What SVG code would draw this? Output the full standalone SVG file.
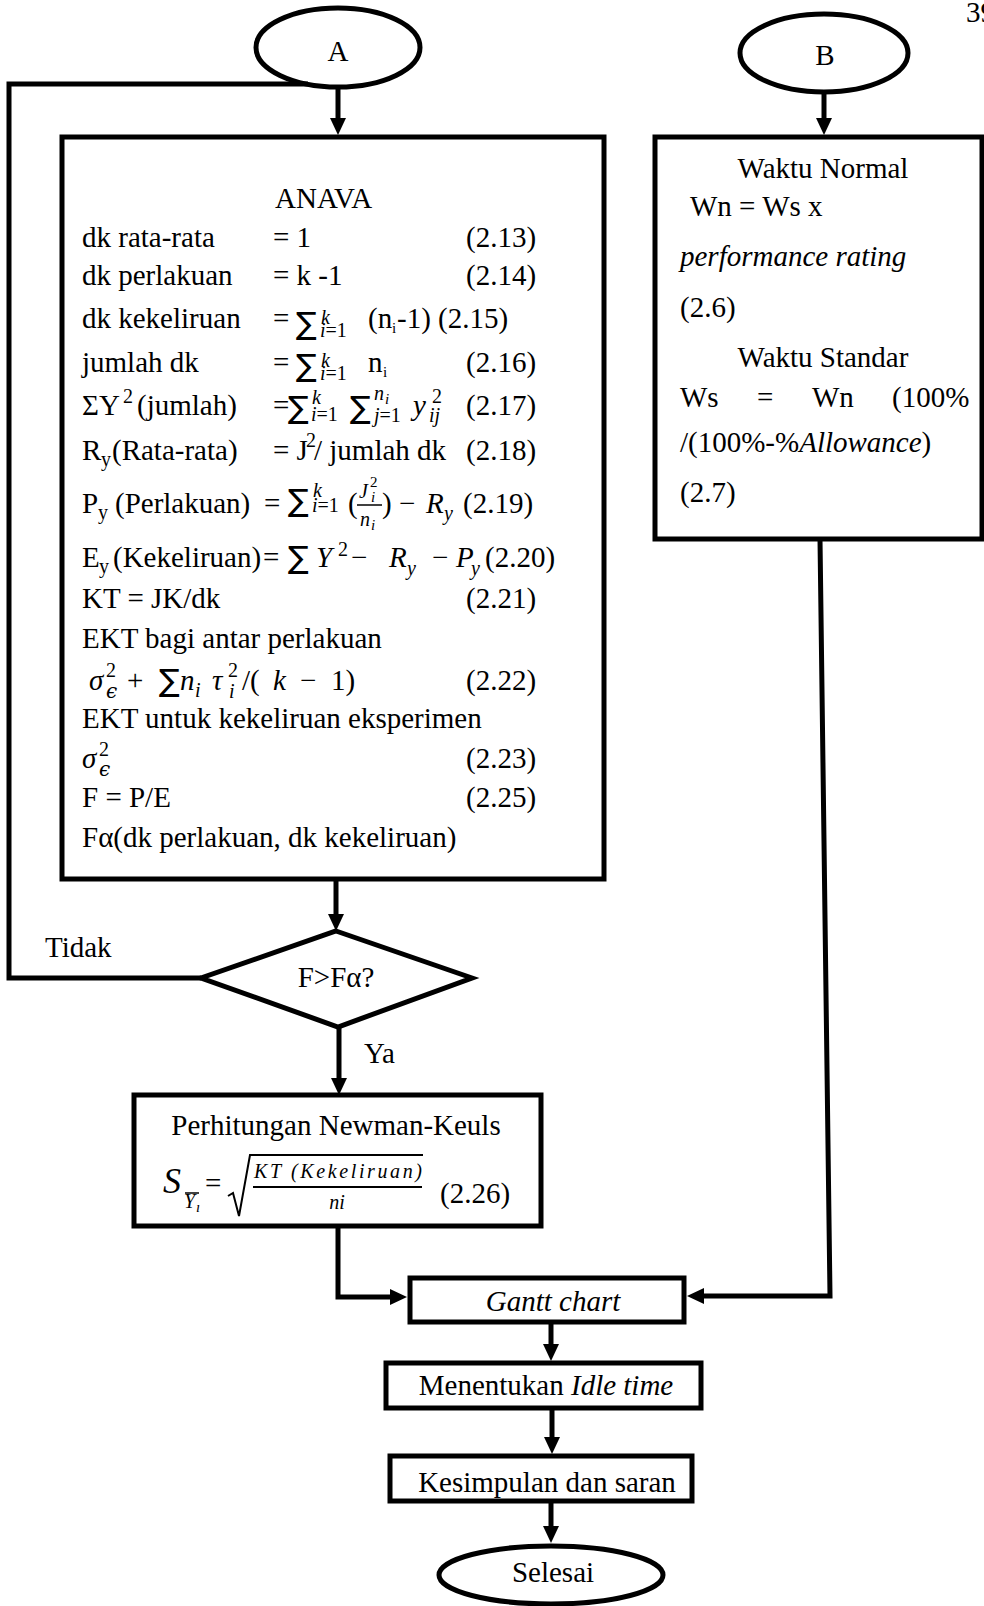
<svg xmlns="http://www.w3.org/2000/svg" width="984" height="1606" viewBox="0 0 984 1606">
<style>
text{font-family:"Liberation Serif","Times New Roman",serif;font-size:29px;fill:#000}
.i{font-style:italic}
.m{font-family:"Liberation Serif",serif;font-style:italic}
.s{font-size:20px}
.xs{font-size:15px}
.sum{font-family:"DejaVu Sans",sans-serif;font-size:31px}
.gk{font-family:"DejaVu Serif",serif;font-style:italic}
.mid{text-anchor:middle}
.box{fill:#fff;stroke:#000;stroke-width:5}
.ln{fill:none;stroke:#000;stroke-width:5}
.thin{fill:none;stroke:#000;stroke-width:1.5}
</style>
<defs>
<marker id="ah" markerUnits="userSpaceOnUse" markerWidth="18" markerHeight="17" refX="9" refY="8" orient="auto">
<path d="M0,0 L17,8 L0,16 z" fill="#000"/>
</marker>
</defs>
<rect width="984" height="1606" fill="#fff"/>
<text x="966" y="22">39</text>

<g id="startA">
<ellipse class="box" cx="338" cy="47.5" rx="82" ry="39.5"/>
<text class="mid" x="338" y="61">A</text>
</g>
<g id="startB">
<ellipse class="box" cx="824" cy="53" rx="84" ry="39"/>
<text class="mid" x="825" y="65">B</text>
</g>

<g id="anava">
<rect class="box" x="62" y="137" width="542" height="742"/>
<text x="275" y="208">ANAVA</text>
<text x="82" y="247">dk rata-rata</text><text x="273" y="247">= 1</text><text x="466" y="247">(2.13)</text>
<text x="82" y="285">dk perlakuan</text><text x="273" y="285">= k -1</text><text x="466" y="285">(2.14)</text>
<text x="82" y="328">dk kekeliruan</text><text x="273" y="328">=</text>
<text class="sum" x="296" y="334">∑</text><text class="m s" x="321" y="324">k</text><text class="s" x="320" y="337"><tspan class="m">i</tspan>=1</text>
<text x="368" y="328">(n</text><text class="xs" x="392" y="333">i</text><text x="397" y="328">-1)</text><text x="438" y="328">(2.15)</text>
<text x="82" y="372">jumlah dk</text><text x="273" y="372">=</text>
<text class="sum" x="296" y="376">∑</text><text class="m s" x="321" y="367">k</text><text class="s" x="320" y="380"><tspan class="m">i</tspan>=1</text>
<text x="368" y="372">n</text><text class="xs" x="383" y="377">i</text><text x="466" y="372">(2.16)</text>
<text x="82" y="415">ΣY</text><text class="s" x="123" y="403">2</text><text x="137" y="415">(jumlah)</text>
<text x="273" y="415">=</text>
<text class="sum" x="288" y="418">∑</text><text class="m s" x="312" y="404">k</text><text class="s" x="311" y="421"><tspan class="m">i</tspan>=1</text>
<text class="sum" x="350" y="418">∑</text><text class="m s" x="374" y="400">n</text><text class="m xs" x="385" y="404">i</text><text class="s" x="374" y="422"><tspan class="m">j</tspan>=1</text>
<text class="m" x="413" y="415">y</text><text class="s" x="432" y="403">2</text><text class="m s" x="429" y="422">ij</text>
<text x="466" y="415">(2.17)</text>
<text x="82" y="460">R</text><text class="s" x="101" y="466">y</text><text x="112" y="460">(Rata-rata)</text>
<text x="273" y="460">= J</text><text class="s" x="306" y="447">2</text><text x="314" y="460">/ jumlah dk</text><text x="466" y="460">(2.18)</text>
<text x="82" y="513">P</text><text class="s" x="98" y="519">y</text><text x="115" y="513">(Perlakuan)</text>
<text x="264" y="513">=</text>
<text class="sum" x="288" y="511">∑</text><text class="m s" x="313" y="497">k</text><text class="s" x="312" y="512"><tspan class="m">i</tspan>=1</text>
<text x="348" y="513">(</text>
<text class="m s" x="359" y="498">J</text><text class="xs" x="370" y="487">2</text><text class="m xs" x="371" y="502">i</text>
<line class="thin" x1="357" y1="505" x2="382" y2="505"/>
<text class="m s" x="360" y="526">n</text><text class="m xs" x="371" y="530">i</text>
<text x="382" y="513">)</text><text x="399" y="513">−</text>
<text class="m" x="426" y="513">R</text><text class="m s" x="444" y="520">y</text><text x="463" y="513">(2.19)</text>
<text x="82" y="567">E</text><text class="s" x="99" y="573">y</text><text x="113" y="567">(Kekeliruan)</text><text x="263" y="567">=</text>
<text class="sum" x="288" y="568">∑</text><text class="m" x="316" y="567">Y</text><text class="s" x="338" y="556">2</text>
<text x="351" y="567">−</text><text class="m" x="389" y="567">R</text><text class="m s" x="407" y="575">y</text>
<text x="432" y="567">−</text><text class="m" x="456" y="567">P</text><text class="m s" x="471" y="575">y</text>
<text x="485" y="567">(2.20)</text>
<text x="82" y="608">KT = JK/dk</text><text x="466" y="608">(2.21)</text>
<text x="82" y="648">EKT bagi antar perlakuan</text>
<text class="m" x="89" y="690">σ</text><text class="s" x="106" y="677">2</text><text class="gk s" x="106" y="698">ϵ</text>
<text x="127" y="690">+</text><text class="sum" x="159" y="691">∑</text>
<text class="m" x="180" y="690">n</text><text class="m s" x="195" y="697">i</text>
<text class="m" x="212" y="690">τ</text><text class="s" x="228" y="677">2</text><text class="m s" x="229" y="698">i</text>
<text x="242" y="690">/(</text><text class="m" x="273" y="690">k</text><text x="300" y="690">−</text><text x="331" y="690">1)</text>
<text x="466" y="690">(2.22)</text>
<text x="82" y="728">EKT untuk kekeliruan eksperimen</text>
<text class="m" x="82" y="768">σ</text><text class="s" x="99" y="756">2</text><text class="gk s" x="99" y="776">ϵ</text>
<text x="466" y="768">(2.23)</text>
<text x="82" y="807">F = P/E</text><text x="466" y="807">(2.25)</text>
<text x="82" y="847">Fα(dk perlakuan, dk kekeliruan)</text>
</g>

<g id="waktu">
<rect class="box" x="655" y="137" width="327" height="402"/>
<text class="mid" x="823" y="178">Waktu Normal</text>
<text x="690" y="216">Wn = Ws x</text>
<text class="i" x="680" y="266">performance rating</text>
<text x="680" y="317">(2.6)</text>
<text class="mid" x="823" y="367">Waktu Standar</text>
<text y="407"><tspan x="680">Ws</tspan><tspan x="757">=</tspan><tspan x="812">Wn</tspan><tspan x="892">(100%</tspan></text>
<text x="680" y="452">/(100%-%<tspan class="i">Allowance</tspan>)</text>
<text x="680" y="502">(2.7)</text>
</g>

<g id="decision">
<polygon class="box" points="336,931 472,978 338,1027 201,978"/>
<text class="mid" x="336" y="987">F&gt;Fα?</text>
</g>

<g id="newman">
<rect class="box" x="134" y="1095" width="407" height="131"/>
<text class="mid" x="336" y="1135">Perhitungan Newman-Keuls</text>
<text class="m" x="163" y="1193" style="font-size:36px">S</text>
<text class="m s" x="184" y="1208">Y</text><text class="m xs" x="196" y="1212">ı</text>
<line class="thin" x1="185" y1="1193" x2="199" y2="1193"/>
<text x="205" y="1193">=</text>
<path d="M228,1196 L233,1193 L239,1216 L250,1155 L423,1155" fill="none" stroke="#000" stroke-width="2"/>
<text class="m s" x="254" y="1178" textLength="168" lengthAdjust="spacing">KT (Kekeliruan)</text>
<line class="thin" x1="253" y1="1187" x2="422" y2="1187" style="stroke-width:2"/>
<text class="m s mid" x="337" y="1209">ni</text>
<text x="440" y="1203">(2.26)</text>
</g>

<g id="gantt">
<rect class="box" x="410" y="1278" width="274" height="44"/>
<text class="i mid" x="553" y="1311">Gantt chart</text>
</g>
<g id="idle">
<rect class="box" x="386" y="1363" width="315" height="45"/>
<text class="mid" x="546" y="1395">Menentukan <tspan class="i">Idle time</tspan></text>
</g>
<g id="kesimpulan">
<rect class="box" x="390" y="1456" width="302" height="45"/>
<text class="mid" x="547" y="1492">Kesimpulan dan saran</text>
</g>
<g id="selesai">
<ellipse class="box" cx="551" cy="1575" rx="112" ry="29"/>
<text class="mid" x="553" y="1582">Selesai</text>
</g>

<g id="connectors">
<path class="ln" d="M201,978 L9,978 L9,84 L308,84"/>
<path class="ln" d="M338,87 L338,127" marker-end="url(#ah)"/>
<path class="ln" d="M824,92 L824,127" marker-end="url(#ah)"/>
<path class="ln" d="M336,879 L336,923" marker-end="url(#ah)"/>
<path class="ln" d="M339,1027 L339,1087" marker-end="url(#ah)"/>
<path class="ln" d="M338,1226 L338,1297 L399,1297" marker-end="url(#ah)"/>
<path class="ln" d="M820,539 L830,1296 L695,1296" marker-end="url(#ah)"/>
<path class="ln" d="M551,1322 L551,1353" marker-end="url(#ah)"/>
<path class="ln" d="M552,1408 L552,1446" marker-end="url(#ah)"/>
<path class="ln" d="M551,1501 L551,1535" marker-end="url(#ah)"/>
<text x="45" y="957">Tidak</text>
<text x="364" y="1063">Ya</text>
</g>
</svg>
